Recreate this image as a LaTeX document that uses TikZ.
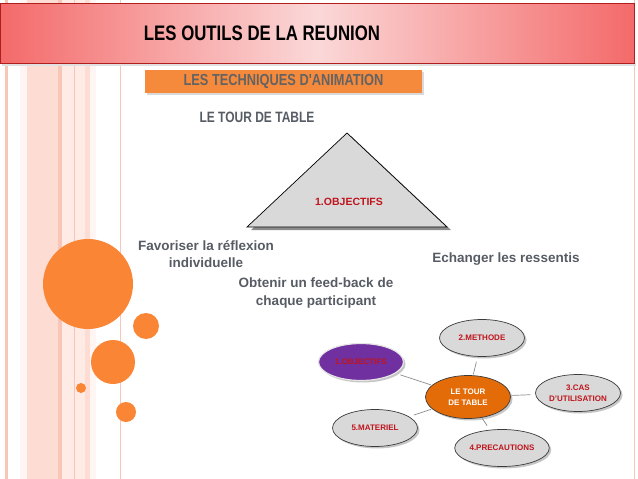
\documentclass[tikz,border=0pt]{standalone}
\usepackage{fontspec}
\setmainfont{Liberation Sans}
\newfontfamily\narrowfont[FakeStretch=0.8]{Liberation Sans}
\usetikzlibrary{positioning,shapes.geometric,shadows}
\definecolor{bannerred}{HTML}{F46A6A}
\definecolor{bannerpale}{HTML}{FBD8D8}
\definecolor{bannerline}{HTML}{B01E1E}
\definecolor{stripedark}{HTML}{F7C6B6}
\definecolor{stripemid}{HTML}{FDDDD3}
\definecolor{stripelight}{HTML}{FEEBE5}
\definecolor{stripefaint}{HTML}{FFF5F2}
\definecolor{bubbleorange}{HTML}{F98535}
\definecolor{boxorange}{HTML}{F68A3C}
\definecolor{txtgray}{HTML}{575C64}
\definecolor{subgray}{HTML}{636363}
\definecolor{trifill}{HTML}{D9D9D9}
\definecolor{topicred}{HTML}{C0141C}
\definecolor{ellgray}{HTML}{3C3C3C}
\definecolor{objpurple}{HTML}{7030A0}
\definecolor{huborange}{HTML}{E36C09}
\definecolor{linkgray}{HTML}{8C8C8C}
\tikzset{
  headtxt/.style={font=\narrowfont\bfseries\fontsize{21}{24}\selectfont,text=black},
  subtxt/.style={font=\narrowfont\bfseries\fontsize{16}{19}\selectfont,text=subgray},
  bodytxt/.style={font=\bfseries\fontsize{13.5}{17.5}\selectfont,text=txtgray,align=center},
  bubble/.style={circle,fill=bubbleorange,inner sep=0pt,minimum size=#1},
  subbox/.style={fill=boxorange,minimum width=277pt,minimum height=23pt,inner sep=0pt,
    drop shadow={shadow xshift=1.5pt,shadow yshift=-2pt,opacity=0.3}},
  topic/.style={ellipse,draw=ellgray,fill=trifill,line width=0.7pt,minimum width=85pt,
    minimum height=37pt,inner sep=1pt,align=center,text=topicred,
    font=\bfseries\fontsize{8}{11}\selectfont,
    drop shadow={shadow xshift=2pt,shadow yshift=-2pt,opacity=0.45}},
  hub/.style={topic,fill=huborange,text=white,minimum height=43pt},
  link/.style={draw=linkgray,line width=0.7pt,shorten <=1pt,shorten >=5pt},
}
\begin{document}
\begin{tikzpicture}[x=1pt,y=-1pt]
  \useasboundingbox (0,0) rectangle (638,479);
  % vertical stripes on the left
  \foreach \xa/\xb/\col in {5/8/stripedark,20/27/stripefaint,27/58/stripemid,
      58/62/stripedark,62/74/stripelight,74/75/stripedark,75/85/stripelight,
      85/90/stripemid,90/96/stripefaint,119.6/120.6/stripedark,633.5/634.5/stripedark}
    \fill[\col] (\xa,0) rectangle (\xb,479);
  % title banner
  \fill[black!12] (2,63) rectangle (636,66);
  \shade[left color=bannerred,right color=bannerred,middle color=bannerpale]
    (0,3) rectangle (634,63);
  \draw[bannerline,line width=0.6pt] (0,3) rectangle (634,63);
  \node[headtxt] (title) at (262,33) {LES OUTILS DE LA REUNION};
  \node[subbox,subtxt] (subtitle) at (283.5,81.5) {LES TECHNIQUES D'ANIMATION};
  \node[headtxt,text=txtgray,font=\narrowfont\bfseries\fontsize{15}{18}\selectfont]
    (tour) at (257,117) {LE TOUR DE TABLE};
  % decorative bubbles
  \node[bubble=90pt] (bigbub) at (88,284) {};
  \node[bubble=26pt] (smallbub) at (146,326) {};
  \node[bubble=44pt] (midbub) at (113,362) {};
  \node[bubble=10pt] (tinybub) at (81,388) {};
  \node[bubble=20pt] (lowbub) at (126,412) {};
  % triangle
  \fill[black!45] (351,136) -- (451,230) -- (251,230) -- cycle;
  \filldraw[fill=trifill,draw=black,line width=0.7pt]
    (347,133) -- (447,227) -- (247,227) -- cycle;
  \node[text=topicred,font=\bfseries\fontsize{10.5}{12}\selectfont] (triobj) at (349,202) {1.OBJECTIFS};
  % goals
  \node[bodytxt] (reflex) at (206,254) {Favoriser la réflexion\\individuelle};
  \node[bodytxt] (ressent) at (506,259) {Echanger les ressentis};
  \node[bodytxt] (feedback) at (316,293) {Obtenir un feed-back de\\chaque participant};
  % mind map
  \node[hub] (hub) at (468,397) {LE TOUR\\DE TABLE};
  \node[topic,fill=objpurple,draw=white!80!gray,line width=1.2pt] (obj) at (361,362) {1.OBJECTIFS};
  \node[topic] (meth) at (482,338) {2.METHODE};
  \node[topic] (cas) at (578,393) {3.CAS\\D'UTILISATION};
  \node[topic] (prec) at (502,448) {4.PRECAUTIONS};
  \node[topic] (mat) at (375,428) {5.MATERIEL};
  \foreach \t in {obj,meth,cas,prec,mat}
    \draw[link] (hub) -- (\t);
\end{tikzpicture}
\end{document}
